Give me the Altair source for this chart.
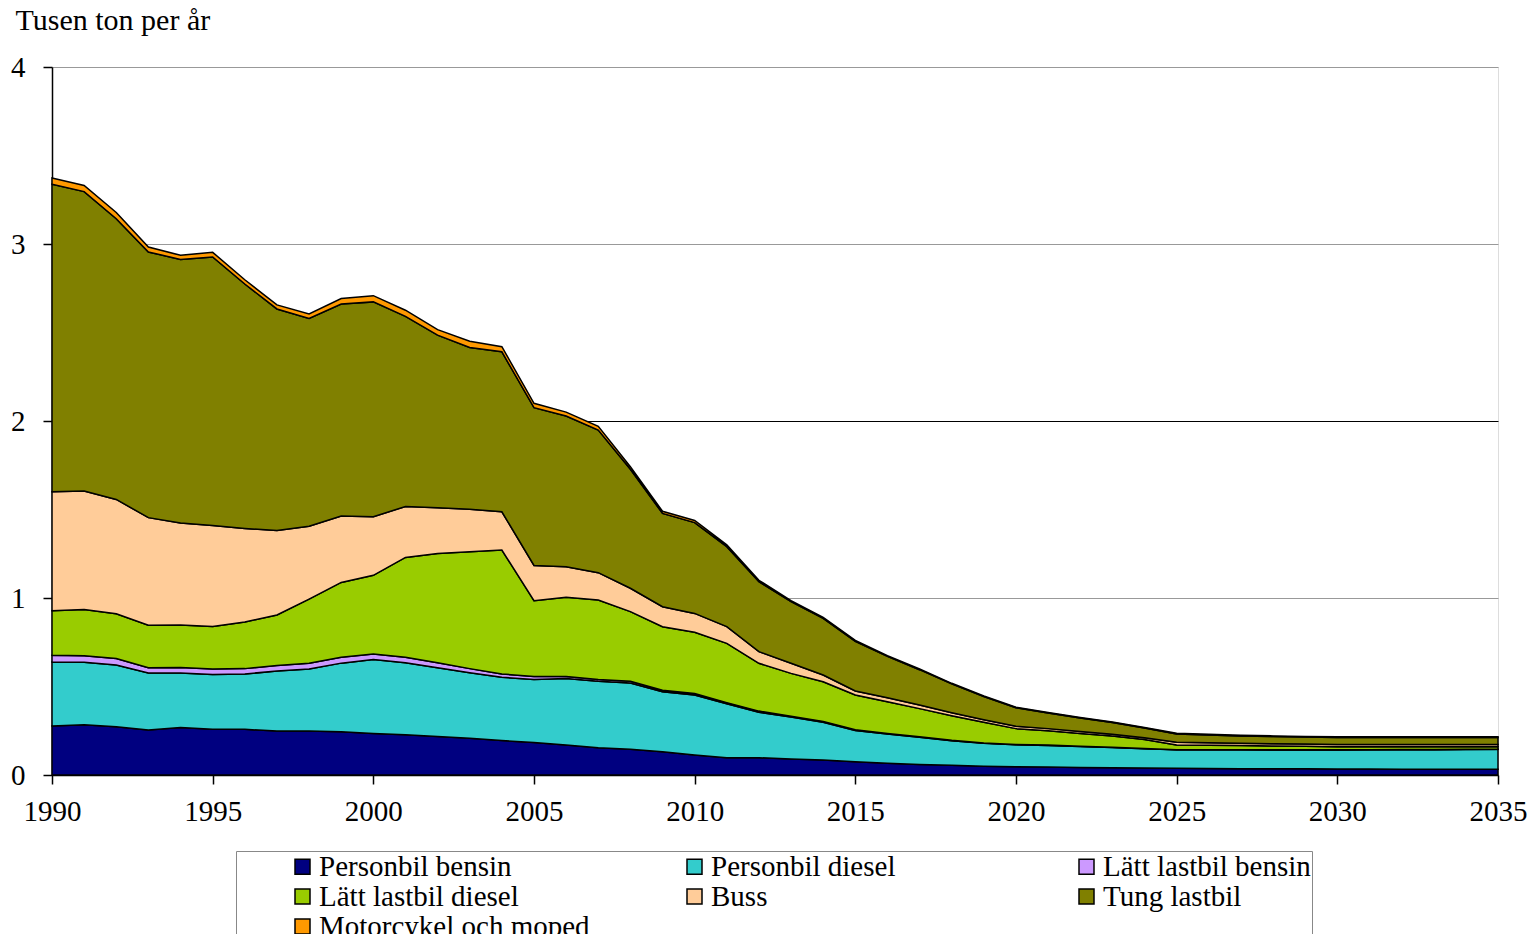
import altair as alt
import pandas as pd

years = list(range(1990, 2036))

series_names = [
    "Personbil bensin",
    "Personbil diesel",
    "Lätt lastbil bensin",
    "Lätt lastbil diesel",
    "Buss",
    "Tung lastbil",
    "Motorcykel och moped",
]
series_colors = ["#000080", "#33CCCC", "#CC99FF", "#99CC00", "#FFCC99", "#808000", "#FF9900"]

# Upper boundary (cumulative stack top) of each band
top_personbil_bensin = [
    0.277, 0.284, 0.272, 0.254, 0.268, 0.258, 0.258, 0.249, 0.249, 0.244,
    0.235, 0.228, 0.218, 0.207, 0.195, 0.183, 0.169, 0.154, 0.145, 0.132,
    0.113, 0.098, 0.098, 0.090, 0.085, 0.075, 0.066, 0.060, 0.055, 0.050,
    0.047, 0.045, 0.043, 0.041, 0.039, 0.038, 0.037, 0.036, 0.035, 0.035,
    0.034, 0.034, 0.033, 0.033, 0.033, 0.032]
top_personbil_diesel = [
    0.639, 0.637, 0.622, 0.576, 0.576, 0.568, 0.571, 0.587, 0.599, 0.632,
    0.653, 0.634, 0.606, 0.578, 0.552, 0.540, 0.545, 0.530, 0.520, 0.470,
    0.452, 0.402, 0.355, 0.327, 0.298, 0.252, 0.232, 0.213, 0.194, 0.179,
    0.171, 0.167, 0.161, 0.155, 0.148, 0.142, 0.142, 0.142, 0.141, 0.141,
    0.141, 0.142, 0.143, 0.143, 0.144, 0.145]
top_latt_bensin = [
    0.677, 0.674, 0.658, 0.606, 0.608, 0.599, 0.601, 0.618, 0.632, 0.665,
    0.684, 0.665, 0.634, 0.601, 0.571, 0.556, 0.557, 0.540, 0.530, 0.479,
    0.460, 0.409, 0.361, 0.332, 0.303, 0.256, 0.235, 0.216, 0.196, 0.181,
    0.173, 0.169, 0.163, 0.157, 0.150, 0.143, 0.143, 0.143, 0.142, 0.142,
    0.142, 0.143, 0.144, 0.144, 0.145, 0.146]
top_latt_diesel = [
    0.928, 0.935, 0.911, 0.846, 0.848, 0.839, 0.864, 0.904, 0.994, 1.088,
    1.128, 1.229, 1.252, 1.261, 1.271, 0.985, 1.004, 0.989, 0.923, 0.838,
    0.806, 0.744, 0.631, 0.574, 0.527, 0.452, 0.414, 0.375, 0.335, 0.298,
    0.262, 0.250, 0.235, 0.220, 0.200, 0.170, 0.168, 0.166, 0.164, 0.162,
    0.160, 0.160, 0.160, 0.160, 0.160, 0.160]
top_buss = [
    1.600, 1.604, 1.557, 1.454, 1.424, 1.409, 1.393, 1.381, 1.405, 1.463,
    1.459, 1.517, 1.510, 1.501, 1.487, 1.184, 1.177, 1.143, 1.055, 0.951,
    0.913, 0.838, 0.697, 0.631, 0.565, 0.475, 0.437, 0.395, 0.352, 0.312,
    0.275, 0.262, 0.246, 0.230, 0.210, 0.185, 0.182, 0.179, 0.177, 0.175,
    0.172, 0.172, 0.172, 0.172, 0.172, 0.172]
top_tung_lastbil = [
    3.338, 3.296, 3.143, 2.955, 2.913, 2.927, 2.774, 2.633, 2.579, 2.661,
    2.673, 2.591, 2.485, 2.415, 2.391, 2.075, 2.028, 1.949, 1.727, 1.478,
    1.426, 1.290, 1.092, 0.979, 0.885, 0.755, 0.670, 0.595, 0.515, 0.443,
    0.380, 0.350, 0.322, 0.297, 0.265, 0.232, 0.226, 0.221, 0.217, 0.214,
    0.212, 0.212, 0.212, 0.212, 0.212, 0.212]
top_motorcykel = [
    3.373, 3.331, 3.178, 2.983, 2.936, 2.953, 2.798, 2.656, 2.605, 2.692,
    2.708, 2.626, 2.516, 2.451, 2.420, 2.100, 2.050, 1.970, 1.742, 1.490,
    1.438, 1.300, 1.100, 0.985, 0.890, 0.760, 0.674, 0.599, 0.518, 0.446,
    0.383, 0.353, 0.325, 0.300, 0.268, 0.236, 0.230, 0.225, 0.221, 0.218,
    0.216, 0.216, 0.216, 0.216, 0.216, 0.216]

x_ticks = [1990, 1995, 2000, 2005, 2010, 2015, 2020, 2025, 2030, 2035]
y_ticks = [0, 1, 2, 3, 4]

tops = [top_personbil_bensin, top_personbil_diesel, top_latt_bensin, top_latt_diesel,
        top_buss, top_tung_lastbil, top_motorcykel]

rows = []
for k, name in enumerate(series_names):
    lower = tops[k - 1] if k > 0 else [0.0] * len(years)
    for i, yr in enumerate(years):
        rows.append({"year": yr, "series": name, "order": k,
                     "upper": tops[k][i], "lower": lower[i]})
df = pd.DataFrame(rows)

FONT = "Liberation Serif"

chart = alt.Chart(df).mark_area(
    stroke="black", strokeWidth=1.5, opacity=1, interpolate="linear"
).encode(
    x=alt.X("year:Q",
            scale=alt.Scale(domain=[1990, 2035], nice=False, zero=False),
            axis=alt.Axis(values=x_ticks, format="d", title=None, grid=False,
                          domainColor="black", domainWidth=1.5,
                          tickColor="black", tickSize=9, tickWidth=1.5,
                          labelPadding=13, labelFontSize=29, labelFont=FONT,
                          labelColor="black", labelFlush=False)),
    y=alt.Y("upper:Q",
            scale=alt.Scale(domain=[0, 4], nice=False),
            axis=alt.Axis(values=y_ticks, format="d", title="Tusen ton per år",
                          titleAngle=0, titleX=-37, titleY=-38, titleAlign="left",
                          titleBaseline="alphabetic", titleFont=FONT, titleFontSize=30,
                          titleFontWeight="normal", titleColor="black",
                          grid=True,
                          gridColor={"condition": {"test": "datum.value === 2", "value": "#000000"},
                                     "value": "#999999"},
                          gridWidth=1.2,
                          domainColor="black", domainWidth=1.5,
                          tickColor="black", tickSize=9, tickWidth=1.5,
                          labelPadding=18, labelFontSize=29, labelFont=FONT,
                          labelColor="black")),
    y2="lower:Q",
    color=alt.Color("series:N",
                    scale=alt.Scale(domain=series_names, range=series_colors),
                    sort=series_names,
                    legend=alt.Legend(
                        title=None, orient="none", legendX=184, legendY=784,
                        direction="horizontal",
                        columns=3, gridAlign="all", columnPadding=39, rowPadding=0,
                        symbolType="square", symbolSize=225, symbolOffset=51,
                        symbolStrokeColor="black", symbolStrokeWidth=1.5,
                        symbolOpacity=1, labelOffset=2,
                        labelFont=FONT, labelFontSize=29, labelColor="black",
                        labelLimit=400,
                        padding=1, strokeColor="#888888", fillColor="white")),
    order=alt.Order("order:Q"),
).properties(
    width=1446, height=708,
    autosize=alt.AutoSizeParams(type="none"),
    padding={"left": 44, "top": 59, "right": 30, "bottom": 170},
).configure_view(
    stroke="#999999", strokeWidth=1.5
).configure(
    background="white"
)

chart.save("out.html", embed_options={"renderer": "svg", "actions": False})
